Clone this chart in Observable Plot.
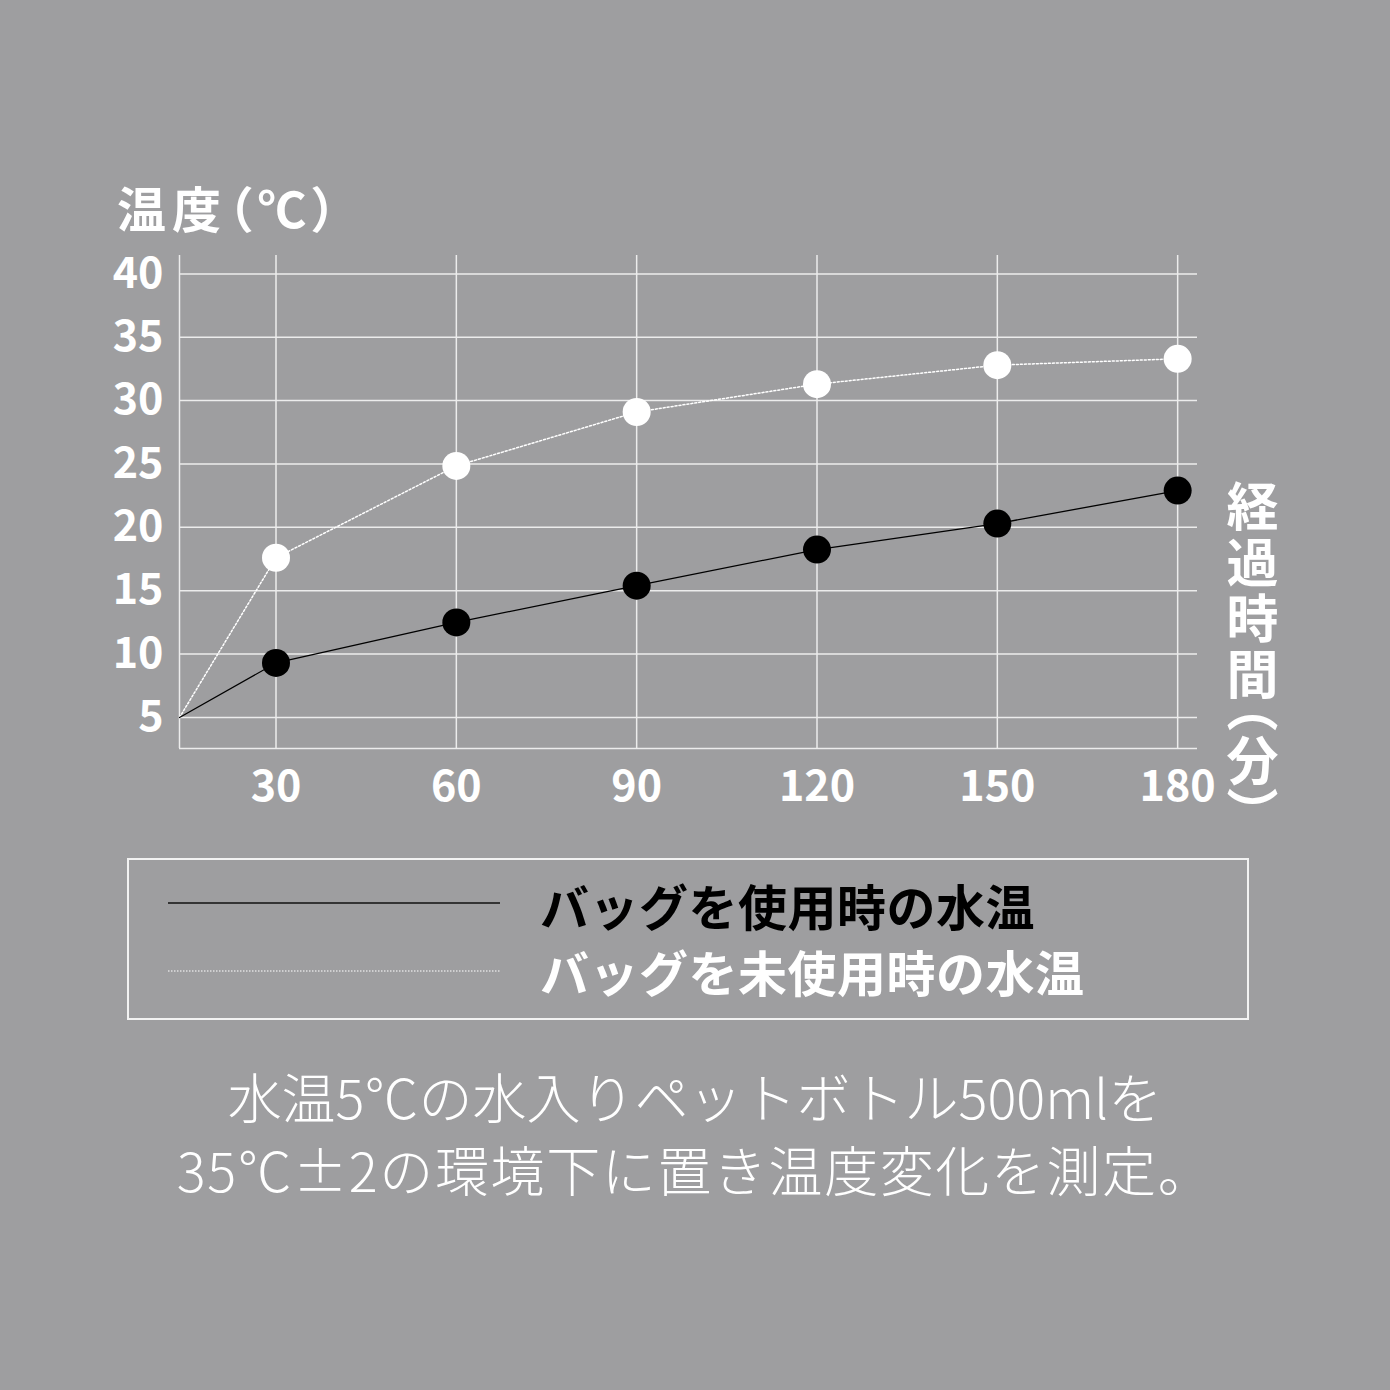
<!DOCTYPE html>
<html>
<head>
<meta charset="utf-8">
<script src="https://cdn.jsdelivr.net/npm/d3@7"></script>
<script src="https://cdn.jsdelivr.net/npm/@observablehq/plot@0.6"></script>
<style>
  html, body { margin: 0; padding: 0; background: #9e9ea0; }
  #wrap { position: relative; width: 1390px; height: 1390px; overflow: hidden; font-family: "Noto Sans CJK JP", "Noto Sans", sans-serif; }
  #chart { position: absolute; left: 0; top: 0; }
  .ytitle { position: absolute; left: 117px; top: 182px; font-size: 49px; line-height: 1; font-weight: 700; color: #fff; white-space: nowrap; font-feature-settings: "palt"; letter-spacing: 6px; }
  .xtitle { position: absolute; left: 1226px; top: 480px; font-size: 52px; line-height: 1; font-weight: 700; color: #fff; writing-mode: vertical-rl; white-space: nowrap; letter-spacing: 4px; font-feature-settings: "vpal"; }
  .legend { position: absolute; left: 127px; top: 858px; width: 1122px; height: 162px; box-sizing: border-box; border: 2px solid #f2f2f2; }
  .legend svg { position: absolute; left: 0; top: 0; }
  .legend .item { position: absolute; left: 411px; font-size: 49px; line-height: 1; font-weight: 700; white-space: nowrap; letter-spacing: 0.5px; }
  .caption { position: absolute; left: 0; width: 1390px; top: 1059px; text-align: center; color: #fff; font-family: "Noto Sans CJK JP Light", "Noto Sans CJK JP DemiLight", "Noto Sans CJK JP", sans-serif; font-size: 54px; font-weight: 300; line-height: 73px; white-space: nowrap; }
  .caption .l2 { letter-spacing: 1.6px; }
</style>
</head>
<body>
<div id="wrap">
  <div id="chart"></div>
</div>
<script>
// ---- data ----
const minutes = [0, 30, 60, 90, 120, 150, 180];
const withBag = [5, 9.3, 12.5, 15.4, 18.25, 20.3, 22.9];      // バッグを使用時の水温
const withoutBag = [5, 17.6, 24.85, 29.1, 31.3, 32.8, 33.3];  // バッグを未使用時の水温
const xTicks = [30, 60, 90, 120, 150, 180];
const yTicks = [5, 10, 15, 20, 25, 30, 35, 40];
const seriesNames = ["バッグを使用時の水温", "バッグを未使用時の水温"];
const yTitle = "温度（℃）";
const xTitle = "経過時間（分）";
const captionLines = ["水温5℃の水入りペットボトル500mlを", "35℃±2の環境下に置き温度変化を測定。"];

const used = minutes.map((m, i) => ({minute: m, temp: withBag[i]}));
const unused = minutes.map((m, i) => ({minute: m, temp: withoutBag[i]}));

const W = 1390, H = 840;
const mL = 179, mR = 193, mT = 255, mB = 92;
const yDomain = [2.55, 41.45];

const chart = Plot.plot({
  width: W,
  height: H,
  marginTop: mT,
  marginBottom: mB,
  marginLeft: mL,
  marginRight: mR,
  style: {background: "transparent", fontFamily: "'Noto Sans CJK JP', sans-serif", color: "#fff", overflow: "visible"},
  x: {type: "linear", domain: [0, 30, 183.3], range: [mL, 275.5, W - mR], label: null},
  y: {domain: yDomain, label: null},
  marks: [
    Plot.gridY(yTicks, {stroke: "#ececec", strokeOpacity: 1, strokeWidth: 1.5}),
    Plot.gridX(xTicks, {stroke: "#ececec", strokeOpacity: 1, strokeWidth: 1.5}),
    Plot.ruleX([minutes[0]], {stroke: "#ececec", strokeWidth: 1.5}),
    Plot.ruleY([yDomain[0]], {stroke: "#ececec", strokeWidth: 1.5}),
    Plot.axisY(yTicks, {tickSize: 0, tickPadding: 16, fontSize: 43, fontWeight: 700, fill: "#fff", label: null}),
    Plot.axisX(xTicks, {tickSize: 0, tickPadding: 22, fontSize: 43, fontWeight: 700, fill: "#fff", label: null}),
    Plot.line(unused, {x: "minute", y: "temp", stroke: "#fff", strokeWidth: 1.5, strokeDasharray: "2,2"}),
    Plot.line(used, {x: "minute", y: "temp", stroke: "#000", strokeWidth: 1.3}),
    Plot.dot(unused.filter(d => d.minute > 0), {x: "minute", y: "temp", r: 14, fill: "#fff", stroke: "none"}),
    Plot.dot(used.filter(d => d.minute > 0), {x: "minute", y: "temp", r: 14, fill: "#000", stroke: "none"})
  ]
});
document.getElementById("chart").appendChild(chart);

const wrap = d3.select("#wrap");
wrap.append("div").attr("class", "ytitle").text(yTitle);
wrap.append("div").attr("class", "xtitle").text(xTitle);

const legend = wrap.append("div").attr("class", "legend");
const lsvg = legend.append("svg").attr("width", 1122).attr("height", 162);
lsvg.append("line").attr("x1", 39).attr("x2", 371).attr("y1", 43).attr("y2", 43)
  .attr("stroke", "#111").attr("stroke-width", 1.5);
lsvg.append("line").attr("x1", 39).attr("x2", 371).attr("y1", 111).attr("y2", 111)
  .attr("stroke", "#fff").attr("stroke-width", 1.2).attr("stroke-dasharray", "1.5,1.5");
legend.append("div").attr("class", "item").style("top", "20px").style("color", "#000").text(seriesNames[0]);
legend.append("div").attr("class", "item").style("top", "86px").style("color", "#fff").text(seriesNames[1]);

const cap = wrap.append("div").attr("class", "caption");
captionLines.forEach((t, i) => cap.append("div").attr("class", "l" + (i + 1)).text(t));
</script>
</body>
</html>
